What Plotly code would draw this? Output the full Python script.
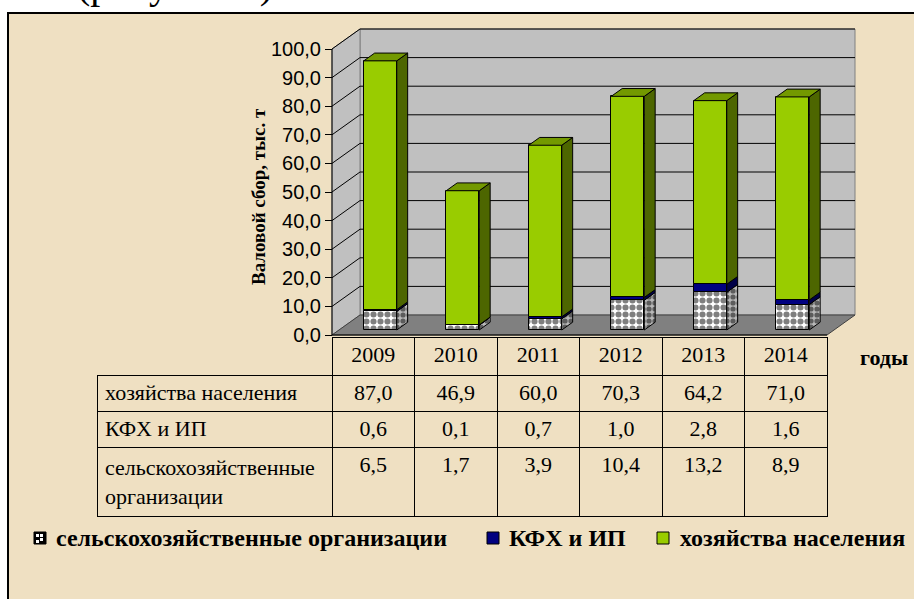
import plotly.graph_objects as go

# ---------------- data ----------------
years = ["2009", "2010", "2011", "2012", "2013", "2014"]
households = [87.0, 46.9, 60.0, 70.3, 64.2, 71.0]      # хозяйства населения
kfh = [0.6, 0.1, 0.7, 1.0, 2.8, 1.6]                   # КФХ и ИП
agri_org = [6.5, 1.7, 3.9, 10.4, 13.2, 8.9]            # сельскохозяйственные организации

series_names = ["сельскохозяйственные организации", "КФХ и ИП", "хозяйства населения"]
table_labels = ["хозяйства населения", "КФХ и ИП", "сельскохозяйственные<br>организации"]
y_ticks = [0, 10, 20, 30, 40, 50, 60, 70, 80, 90, 100]
y_title = "Валовой сбор, тыс. т"
x_title = "годы"
caption = "(рисунок 1)"

# ---------------- layout geometry ----------------
W, H = 914, 599
PXX = 82.5            # px per category
PXY = 2.86            # px per value unit
AX_X = 332            # front axis pixel x (category -0.5)
Z_Y = 335             # pixel y of value 0 on front plane
DX = 28 / PXX         # depth offset in x units
DY = 20 / PXY         # depth offset in value units
F0, F1 = 0.25, 0.64   # bar front/back depth fraction
BW = 0.4              # bar width (category units)
VMAX = 100

dom_l, dom_r = 328, 866
dom_t, dom_b = 24, 340
x_range = [-0.5 - (AX_X - dom_l) / PXX, -0.5 + (dom_r - AX_X) / PXX]
y_range = [-(dom_b - Z_Y) / PXY, (Z_Y - dom_t) / PXY]

SERIF = "Liberation Serif, Times New Roman, serif"
SANS = "Liberation Sans, Arial, sans-serif"
BG = "#efe0c2"
GREEN, GREEN_SIDE, GREEN_TOP = "#99cc00", "#4d6600", "#739900"
NAVY, NAVY_SIDE = "#000080", "#000048"
n = len(years)
xc = [i + F0 * DX for i in range(n)]
b0 = F0 * DY
sdx = (F1 - F0) * DX
sdy = (F1 - F0) * DY

base_agri = [b0] * n
base_kfh = [b0 + agri_org[i] for i in range(n)]
base_hh = [b0 + agri_org[i] + kfh[i] for i in range(n)]

fig = go.Figure()

# front faces (bars)
fig.add_trace(go.Bar(
    x=xc, y=agri_org, base=base_agri, width=BW, name=series_names[0], showlegend=False,
    marker=dict(color="white", line=dict(color="black", width=1),
                pattern=dict(shape=".", fgcolor="black", bgcolor="white", size=7, solidity=0.6)),
))
fig.add_trace(go.Bar(
    x=xc, y=kfh, base=base_kfh, width=BW, name=series_names[1], showlegend=False,
    marker=dict(color=NAVY, line=dict(color="black", width=1)),
))
fig.add_trace(go.Bar(
    x=xc, y=households, base=base_hh, width=BW, name=series_names[2], showlegend=False,
    marker=dict(color=GREEN, line=dict(color="black", width=1)),
))


def side_faces(vals, bases):
    xs, ys = [], []
    for i in range(n):
        xr = xc[i] + BW / 2
        lo, hi = bases[i], bases[i] + vals[i]
        xs += [xr, xr + sdx, xr + sdx, xr, xr, None]
        ys += [lo, lo + sdy, hi + sdy, hi, lo, None]
    return xs, ys


sx, sy = side_faces(agri_org, base_agri)
fig.add_trace(go.Scatter(x=sx, y=sy, mode="lines", fill="toself", showlegend=False, hoverinfo="skip",
                         line=dict(color="black", width=1), fillcolor="#a0a0a0",
                         fillpattern=dict(shape=".", fgcolor="black", bgcolor="#b8b8b8", size=6, solidity=0.6)))
sx, sy = side_faces(kfh, base_kfh)
fig.add_trace(go.Scatter(x=sx, y=sy, mode="lines", fill="toself", showlegend=False, hoverinfo="skip",
                         line=dict(color="black", width=1), fillcolor=NAVY_SIDE))
sx, sy = side_faces(households, base_hh)
fig.add_trace(go.Scatter(x=sx, y=sy, mode="lines", fill="toself", showlegend=False, hoverinfo="skip",
                         line=dict(color="black", width=1), fillcolor=GREEN_SIDE))

# top faces
tx, ty = [], []
for i in range(n):
    xl, xr = xc[i] - BW / 2, xc[i] + BW / 2
    top = base_hh[i] + households[i]
    tx += [xl, xl + sdx, xr + sdx, xr, xl, None]
    ty += [top, top + sdy, top + sdy, top, top, None]
fig.add_trace(go.Scatter(x=tx, y=ty, mode="lines", fill="toself", showlegend=False, hoverinfo="skip",
                         line=dict(color="black", width=1), fillcolor=GREEN_TOP))

# ---------------- walls, floor, gridlines ----------------
shapes = []
# frame / parchment
shapes.append(dict(type="rect", xref="paper", yref="paper", x0=8 / W, x1=1.05, y0=-0.05, y1=(H - 13) / H,
                   line=dict(color="black", width=2), fillcolor=BG, layer="below"))
xl0, xr0 = -0.5, n - 0.5


def path(pts):
    return "M" + " L".join(f"{px},{py}" for px, py in pts) + " Z"


# back wall
shapes.append(dict(type="path", xref="x", yref="y", layer="below", fillcolor="#c0c0c0",
                   line=dict(color="#808080", width=1),
                   path=path([(xl0 + DX, DY), (xr0 + DX, DY), (xr0 + DX, VMAX + DY), (xl0 + DX, VMAX + DY)])))
# left wall
shapes.append(dict(type="path", xref="x", yref="y", layer="below", fillcolor="#c0c0c0",
                   line=dict(color="#808080", width=1),
                   path=path([(xl0, 0), (xl0 + DX, DY), (xl0 + DX, VMAX + DY), (xl0, VMAX)])))
# floor
shapes.append(dict(type="path", xref="x", yref="y", layer="below", fillcolor="#808080",
                   line=dict(color="#404040", width=1),
                   path=path([(xl0, 0), (xr0, 0), (xr0 + DX, DY), (xl0 + DX, DY)])))
# gridlines
for v in y_ticks[1:]:
    shapes.append(dict(type="line", xref="x", yref="y", layer="below", x0=xl0 + DX, x1=xr0 + DX,
                       y0=v + DY, y1=v + DY, line=dict(color="black", width=1)))
    shapes.append(dict(type="line", xref="x", yref="y", layer="below", x0=xl0, x1=xl0 + DX,
                       y0=v, y1=v + DY, line=dict(color="black", width=1)))
# front value axis line
shapes.append(dict(type="line", xref="x", yref="y", x0=xl0, x1=xl0, y0=0, y1=VMAX,
                   line=dict(color="black", width=1)))
shapes.append(dict(type="line", xref="x", yref="y", x0=xl0, x1=xr0, y0=0, y1=0,
                   line=dict(color="black", width=1)))


# ---------------- data table ----------------
def fmt(v):
    return f"{v:.1f}".replace(".", ",")


cell_cols = [table_labels] + [[fmt(households[i]), fmt(kfh[i]), fmt(agri_org[i])] for i in range(n)]
fig.add_trace(go.Table(
    domain=dict(x=[97 / W, 827 / W], y=[(H - 520) / H, (H - 337) / H]),
    columnwidth=[235] + [PXX] * n,
    header=dict(values=[""] + years, height=38, align="center",
                fill=dict(color="rgba(0,0,0,0)"),
                line=dict(color=["rgba(0,0,0,0)"] + ["black"] * n, width=1),
                font=dict(family=SERIF, size=22, color="black")),
    cells=dict(values=cell_cols, height=36, align=["left"] + ["center"] * n,
               fill=dict(color="rgba(0,0,0,0)"),
               line=dict(color="black", width=1),
               font=dict(family=SERIF, size=22, color="black")),
))

annotations = [
    dict(text=y_title, xref="paper", yref="paper", x=258 / W, y=(H - 197) / H, showarrow=False,
         xanchor="center", yanchor="middle",
         textangle=-90, font=dict(family=SERIF, size=19, color="black", weight="bold")),
    dict(text=x_title, xref="paper", yref="paper", x=884 / W, y=(H - 357) / H, showarrow=False,
         xanchor="center", yanchor="middle",
         font=dict(family=SERIF, size=22, color="black", weight="bold")),
    dict(text=caption, xref="paper", yref="paper", x=75 / W, y=(H - 9) / H, showarrow=False,
         xanchor="left", yanchor="bottom",
         font=dict(family=SERIF, size=40, color="black")),
]

# ---------------- legend (swatch + label per series) ----------------
LEG_Y = 538
leg_box_x = [34, 487, 657]
leg_text_x = [54, 507, 678]
leg_colors = [None, NAVY, GREEN]
for k in range(3):
    x0 = leg_box_x[k]
    if k == 0:
        shapes.append(dict(type="rect", xref="paper", yref="paper", x0=x0 / W, x1=(x0 + 12) / W,
                           y0=(H - LEG_Y - 6) / H, y1=(H - LEG_Y + 6) / H,
                           fillcolor="black", line=dict(color="black", width=1)))
        for (qx, qy) in [(2, -4), (6, -4), (6, 0), (2, 2)]:
            shapes.append(dict(type="rect", xref="paper", yref="paper",
                               x0=(x0 + qx) / W, x1=(x0 + qx + 3) / W,
                               y0=(H - LEG_Y - qy - 3) / H, y1=(H - LEG_Y - qy) / H,
                               fillcolor="white", line=dict(width=0)))
    else:
        shapes.append(dict(type="rect", xref="paper", yref="paper", x0=x0 / W, x1=(x0 + 12) / W,
                           y0=(H - LEG_Y - 6) / H, y1=(H - LEG_Y + 6) / H,
                           fillcolor=leg_colors[k], line=dict(color="black", width=1)))
    annotations.append(dict(text=series_names[k], xref="paper", yref="paper",
                            x=leg_text_x[k] / W, y=(H - LEG_Y) / H, showarrow=False,
                            xanchor="left", yanchor="middle",
                            font=dict(family=SERIF, size=24, color="black", weight="bold")))

fig.update_layout(
    width=W, height=H, margin=dict(l=0, r=0, t=0, b=0, autoexpand=False),
    paper_bgcolor="white", plot_bgcolor="rgba(0,0,0,0)",
    font=dict(family=SERIF, color="black"),
    separators=", ",
    barmode="overlay", bargap=0,
    shapes=shapes, annotations=annotations,
    showlegend=False,
    xaxis=dict(domain=[dom_l / W, dom_r / W], range=x_range, visible=False, fixedrange=True),
    yaxis=dict(domain=[(H - dom_b) / H, (H - dom_t) / H], range=y_range,
               anchor="free", position=AX_X / W,
               showgrid=False, zeroline=False, showline=False,
               tickvals=y_ticks, tickformat=".1f", ticks="outside", ticklen=7,
               tickcolor="black", tickwidth=1,
               tickfont=dict(family=SANS, size=20, color="black"),
               fixedrange=True),
)

fig.write_html("out.html", config={"displayModeBar": False},
               post_script="document.body.style.margin='0';")
